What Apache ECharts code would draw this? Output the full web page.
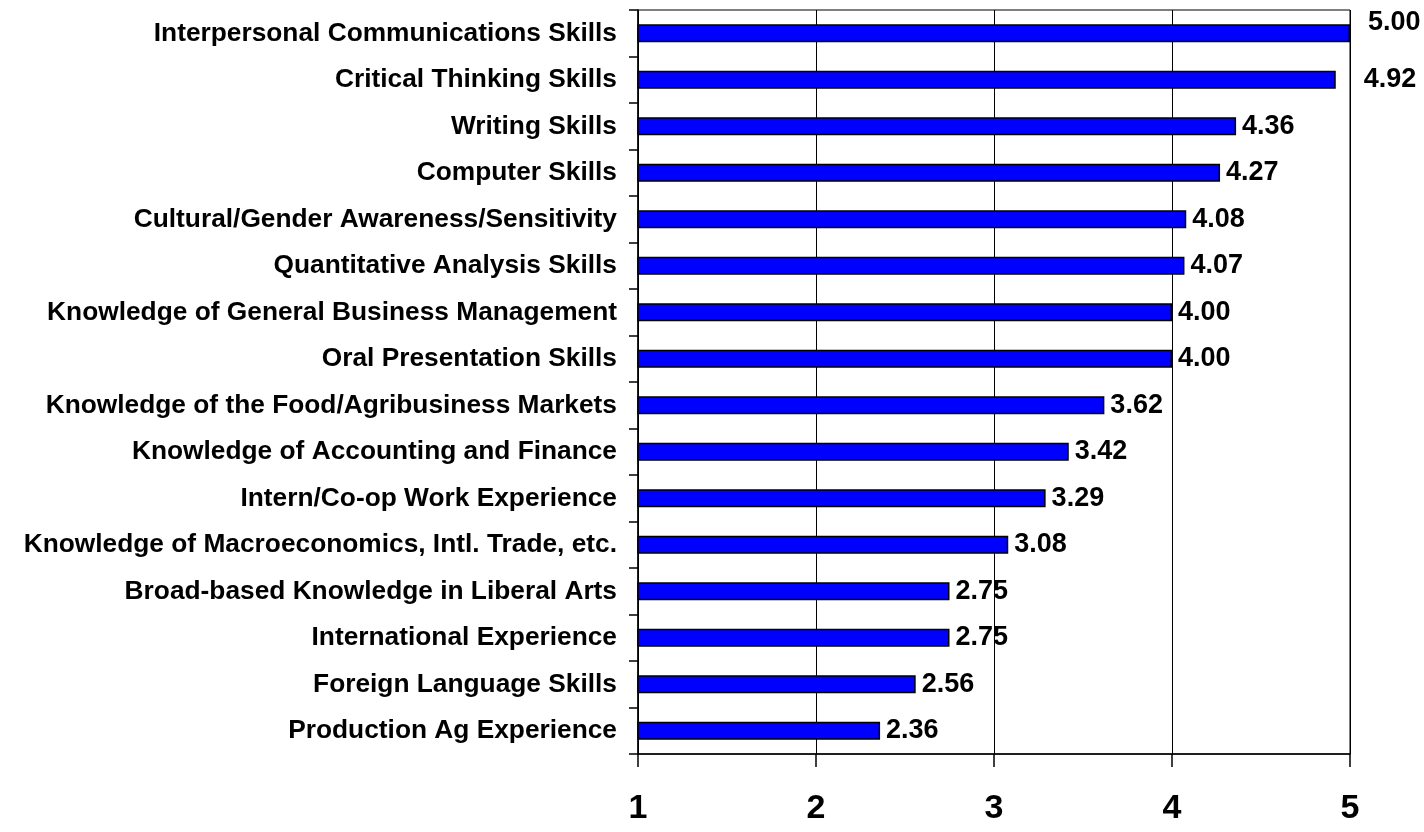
<!DOCTYPE html>
<html>
<head>
<meta charset="utf-8">
<script src="https://cdn.jsdelivr.net/npm/echarts@6/dist/echarts.min.js"></script>
<style>
  html, body { margin: 0; padding: 0; background: #fff; }
  #chart { width: 1424px; height: 832px; }
</style>
</head>
<body>
<div id="chart"></div>
<script>
// skills, listed top to bottom as in the chart
var skills = [
    'Interpersonal Communications Skills',
    'Critical Thinking Skills',
    'Writing Skills',
    'Computer Skills',
    'Cultural/Gender Awareness/Sensitivity',
    'Quantitative Analysis Skills',
    'Knowledge of General Business Management',
    'Oral Presentation Skills',
    'Knowledge of the Food/Agribusiness Markets',
    'Knowledge of Accounting and Finance',
    'Intern/Co-op Work Experience',
    'Knowledge of Macroeconomics, Intl. Trade, etc.',
    'Broad-based Knowledge in Liberal Arts',
    'International Experience',
    'Foreign Language Skills',
    'Production Ag Experience'
];
var ratings = [5.00, 4.92, 4.36, 4.27, 4.08, 4.07, 4.00, 4.00, 3.62, 3.42, 3.29, 3.08, 2.75, 2.75, 2.56, 2.36];
var xTicks = [1, 2, 3, 4, 5];

var font = 'Arial, "Liberation Sans", sans-serif';

var chart = echarts.init(document.getElementById('chart'));

// the two top labels sit past the plot border, like the original
var barData = ratings.map(function (v, i) {
    var item = { value: v };
    if (i === 0) item.label = { distance: 18, offset: [0, -11] };
    if (i === 1) item.label = { distance: 28 };
    return item;
});

chart.setOption({
    animation: false,
    grid: {
        left: 638, right: 74, top: 10, bottom: 78,
        show: true, borderColor: '#000', borderWidth: 1
    },
    xAxis: {
        type: 'value',
        min: xTicks[0],
        max: xTicks[xTicks.length - 1],
        interval: 1,
        axisLine: { show: true, lineStyle: { color: '#000', width: 1.5 } },
        axisTick: { show: true, length: 13, lineStyle: { color: '#000', width: 1.5 } },
        splitLine: { show: true, lineStyle: { color: '#000', width: 1 } },
        axisLabel: {
            margin: 38,
            color: '#000',
            fontFamily: font,
            fontWeight: 'bold',
            fontSize: 34
        }
    },
    yAxis: {
        type: 'category',
        inverse: true,
        data: skills,
        axisLine: { show: true, lineStyle: { color: '#000', width: 1.5 } },
        axisTick: { show: true, length: 9, lineStyle: { color: '#000', width: 1.5 } },
        axisLabel: {
            margin: 21,
            color: '#000',
            fontFamily: font,
            fontWeight: 'bold',
            fontSize: 26.3
        }
    },
    series: [{
        type: 'bar',
        data: barData,
        barWidth: 18,
        itemStyle: { color: '#0000FF', borderColor: '#000', borderWidth: 1.5 },
        label: {
            show: true,
            position: 'right',
            distance: 6,
            color: '#000',
            fontFamily: font,
            fontWeight: 'bold',
            fontSize: 27,
            formatter: function (p) { return p.value.toFixed(2); }
        }
    }]
});
</script>
</body>
</html>
